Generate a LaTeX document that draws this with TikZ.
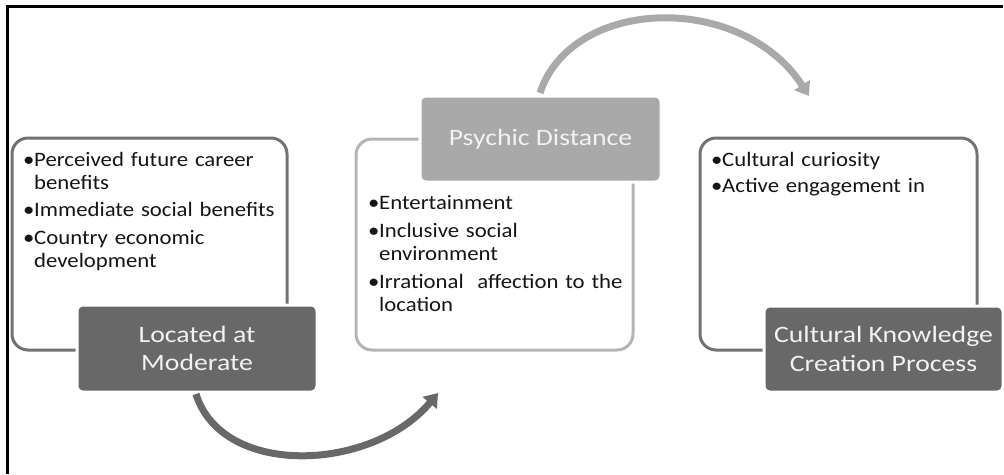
\documentclass[tikz,border=0pt]{standalone}
\usepackage{fontspec}
\setmainfont{Carlito}
\newfontfamily\bodyfont[FakeStretch=1.11]{Carlito}
\newfontfamily\labelfont[FakeStretch=1.18]{Carlito}
\usetikzlibrary{arrows.meta}
\definecolor{darkfill}{HTML}{686868}
\definecolor{midfill}{HTML}{A9A9A9}
\definecolor{darkline}{HTML}{727272}
\definecolor{lightline}{HTML}{B4B4B4}
\definecolor{labeltext}{HTML}{F2F2F2}
\definecolor{bodytext}{HTML}{151515}
\newcommand\bitem[1]{\par\hangindent=11pt\hangafter=1\noindent\makebox[11pt][l]{\textbullet}#1\par}
\tikzset{
  listbox/.style={draw=#1, fill=white, line width=3pt, rounded corners=16pt, inner sep=0pt},
  labelbox/.style={fill=#1, draw=white, line width=3pt, rounded corners=6pt, inner sep=0pt,
    text=labeltext, align=center, font=\labelfont\fontsize{23.5}{28.5}\selectfont},
  bodytxt/.style={anchor=north west, inner sep=0pt, text width=#1, align=left,
    text=bodytext, font=\bodyfont\fontsize{20.5}{23}\selectfont},
  flowarrow/.style={draw=#1, line width=7pt, -{Triangle[width=18pt,length=13pt]}},
  frameline/.style={line width=2.5pt, black}
}
\begin{document}
\begin{tikzpicture}[x=1pt,y=-1pt]
\useasboundingbox (0,0) rectangle (1004,474);
% frame
\coordinate (fl) at (7.5,474);
\coordinate (fc) at (7.5,6.5);
\coordinate (fr) at (1003,6.5);
\draw[frameline] (fl) -- (fc) -- (fr);
% list boxes
\node[listbox=darkline, minimum width=275pt, minimum height=212pt] (boxA) at (149.5,244) {};
\node[listbox=lightline, minimum width=277pt, minimum height=211pt] (boxB) at (494.5,244.5) {};
\node[listbox=darkline, minimum width=277pt, minimum height=212pt] (boxC) at (838.5,244) {};
% texts
\node[bodytxt=262pt] (txtA) at (23,143) {%
  \bitem{Perceived future career\newline benefits}\vspace{4.5pt}%
  \bitem{Immediate social benefits}\vspace{4.5pt}%
  \bitem{Country economic\newline development}};
\node[bodytxt=270pt] (txtB) at (368,186) {%
  \bitem{Entertainment}\vspace{5pt}%
  \bitem{Inclusive social\newline environment}\vspace{5pt}%
  \bitem{Irrational~ affection to the\newline location}};
\node[bodytxt=262pt] (txtC) at (711,143) {%
  \bitem{Cultural curiosity}\vspace{3pt}%
  \bitem{Active engagement in}};
% label boxes
\node[labelbox=darkfill, minimum width=240pt, minimum height=87pt] (labA) at (197,348.5) {Located at\\Moderate};
\node[labelbox=midfill, minimum width=241pt, minimum height=86pt] (labB) at (540.5,139) {Psychic Distance};
\node[labelbox=darkfill, minimum width=239pt, minimum height=86pt] (labC) at (883.5,349) {Cultural Knowledge\\Creation Process};
% arrows
\coordinate (a1s) at (196,394);
\coordinate (a1e) at (438,393);
\draw[flowarrow=darkfill] (a1s) .. controls (222,478) and (372,472) .. (a1e);
\coordinate (a2s) at (540,93);
\coordinate (a2e) at (809,96);
\draw[flowarrow=midfill] (a2s) .. controls (572,-4) and (742,-8) .. (a2e);
\end{tikzpicture}
\end{document}
